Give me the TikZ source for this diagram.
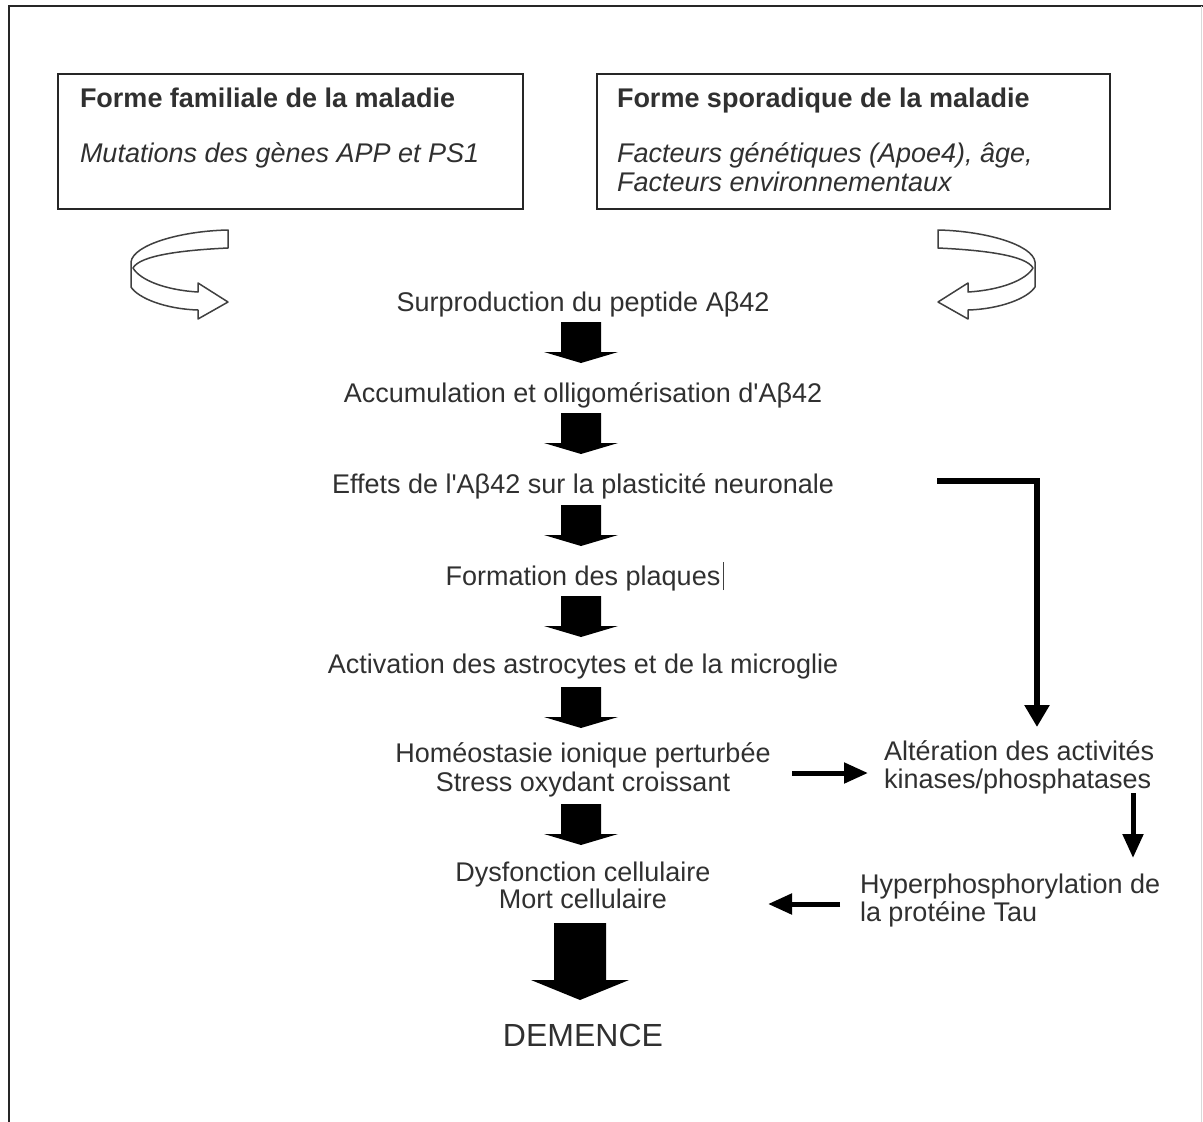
\documentclass[tikz,border=0pt]{standalone}
\usepackage{fontspec}
\setmainfont{Liberation Sans}
\usetikzlibrary{arrows.meta}
\definecolor{txt}{HTML}{303030}
\tikzset{
  lbl/.style={inner sep=0pt, outer sep=0pt, text=txt, font=\fontsize{27pt}{29pt}\selectfont},
  mid/.style={lbl, anchor=base},
  lft/.style={lbl, anchor=base west},
  ttl/.style={lft, font=\fontsize{27pt}{29pt}\selectfont\bfseries},
  itl/.style={lft, font=\fontsize{27pt}{29pt}\selectfont\itshape},
  framebox/.style={draw=black!85, line width=2pt, inner sep=0pt, anchor=north west},
  blk/.pic={\fill[black] (-20,0) -- (20,0) -- (20,30) -- (37,30) -- (0,41) -- (-37,30) -- (-20,30) -- cycle;},
  bigblk/.pic={\fill[black] (-26,0) -- (26,0) -- (26,57) -- (49,57) -- (0,77) -- (-49,57) -- (-26,57) -- cycle;},
  conn/.style={line width=5pt, -{Triangle[length=24pt,width=20pt]}},
  ribbon/.style={draw=black!75, line width=1.5pt, fill=white, line join=round},
}
\begin{document}
\begin{tikzpicture}[x=1pt,y=-1pt]
\useasboundingbox (0,0) rectangle (1203,1122);
% outer frame
\draw[line width=2pt, black!85] (9,1122) -- (9,6) -- (1203,6);
\draw[line width=1pt, black!15] (1201.5,6) -- (1201.5,1122);

% top boxes
\node[framebox, minimum width=465pt, minimum height=135pt] (boxfam) at (57,73) {};
\node[ttl] (famt) at (80,107) {Forme familiale de la maladie};
\node[itl] (fami) at (80,162) {Mutations des gènes APP et PS1};

\node[framebox, minimum width=513pt, minimum height=135pt] (boxspo) at (596,73) {};
\node[ttl] (spot) at (617,107) {Forme sporadique de la maladie};
\node[itl] (spoi1) at (617,162) {Facteurs génétiques (Apoe4), âge,};
\node[itl] (spoi2) at (617,191) {Facteurs environnementaux};

% ribbon arrows
\draw[ribbon] (228,230) .. controls (180,231) and (133,245) .. (131,262) -- (131,287)
  .. controls (138,298) and (165,309) .. (198,310) -- (198,319) -- (228,302) -- (198,283) -- (198,292)
  .. controls (165,290) and (140,280) .. (133,268)
  .. controls (140,255) and (185,250) .. (228,248) -- cycle;
\draw[ribbon] (938,230) .. controls (986,231) and (1033,245) .. (1035,262) -- (1035,287)
  .. controls (1028,298) and (1001,309) .. (968,310) -- (968,319) -- (938,302) -- (968,283) -- (968,292)
  .. controls (1001,290) and (1026,280) .. (1033,268)
  .. controls (1026,255) and (981,250) .. (938,248) -- cycle;

% main column
\node[mid] (surp) at (583,311) {Surproduction du peptide Aβ42};
\pic at (581,322) {blk};
\node[mid] (accu) at (583,402) {Accumulation et olligomérisation d\textquotesingle Aβ42};
\pic at (581,413) {blk};
\node[mid] (effe) at (583,493) {Effets de l\textquotesingle Aβ42 sur la plasticité neuronale};
\pic at (581,505) {blk};
\node[mid] (form) at (583,585) {Formation des plaques};
\draw[line width=1.5pt, black!75] ([xshift=3pt,yshift=-5pt]form.base east) -- ++(0,-28);
\pic at (581,596) {blk};
\node[mid] (acti) at (583,673) {Activation des astrocytes et de la microglie};
\pic at (581,687) {blk};
\node[mid] (homeo) at (583,762) {Homéostasie ionique perturbée};
\node[mid] (stress) at (583,791) {Stress oxydant croissant};
\pic at (581,804) {blk};
\node[mid] (dysf) at (583,881) {Dysfonction cellulaire};
\node[mid] (mort) at (583,908) {Mort cellulaire};
\pic at (580,923) {bigblk};
\node[mid, font=\fontsize{32pt}{34pt}\selectfont] (dem) at (583,1046) {DEMENCE};

% right side
\node[lft] (alt1) at (884,760) {Altération des activités};
\node[lft] (alt2) at (884,788) {kinases/phosphatases};
\node[lft] (hyp1) at (860,893) {Hyperphosphorylation de};
\node[lft] (hyp2) at (860,921) {la protéine Tau};

\coordinate (elbS) at (937,481);
\coordinate (elbE) at (1037,727);
\draw[line width=6pt, -{Triangle[length=22pt,width=24pt]}] (elbS) -| (elbE);

\coordinate (hrS) at (792,773);
\coordinate (hrE) at (868,773);
\draw[conn] (hrS) -- (hrE);

\coordinate (dnS) at (1133,793);
\coordinate (dnE) at (1133,858);
\draw[conn] (dnS) -- (dnE);

\coordinate (lfS) at (840,904);
\coordinate (lfE) at (768,904);
\draw[conn] (lfS) -- (lfE);
\end{tikzpicture}
\end{document}
